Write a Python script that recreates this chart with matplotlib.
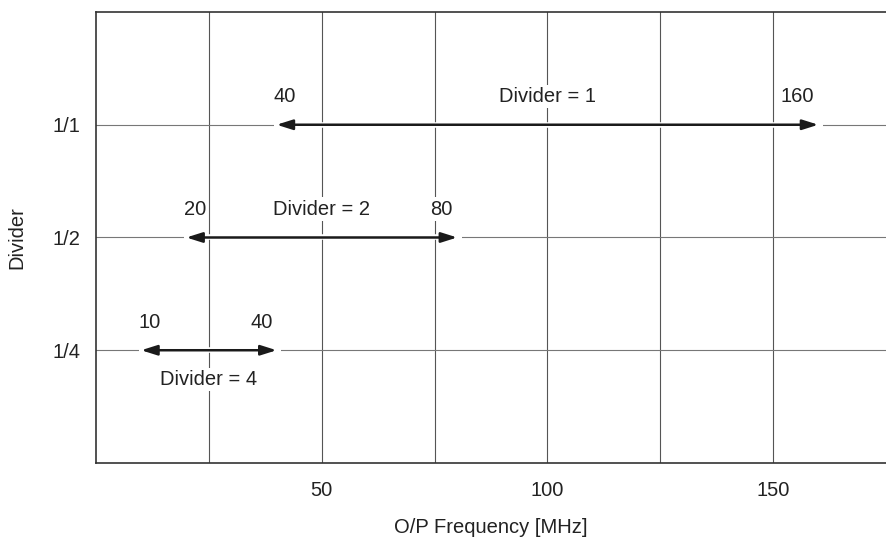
import numpy as np
import matplotlib
matplotlib.use("Agg")
import matplotlib.pyplot as plt

plt.rcParams['font.family'] = ['Liberation Sans', 'DejaVu Sans']

# divider settings and their output frequency range (MHz)
dividers = ['1/4', '1/2', '1/1']
div_names = ['Divider = 4', 'Divider = 2', 'Divider = 1']
f_min = [10, 20, 40]
f_max = [40, 80, 160]
x_ticks = [50, 100, 150]
x_grid = [25, 50, 75, 100, 125, 150]

FS = 14.5
TXT = '#222222'

fig = plt.figure(figsize=(8.86, 5.40), dpi=100)
ax = fig.add_axes([0.1084, 0.1426, 0.8916, 0.8352])

ypos = np.arange(1, len(dividers) + 1)
ax.set_xlim(0, 175)
ax.set_ylim(0, 4)

# grid
for gx in x_grid:
    ax.axvline(gx, color='#555555', lw=0.8, zorder=1)
for gy in ypos:
    ax.axhline(gy, color='#777777', lw=0.8, zorder=1)

box = dict(boxstyle='square,pad=0.12', fc='white', ec='none')
for i, y in enumerate(ypos):
    lo, hi = f_min[i], f_max[i]
    # small white gap in the grid line around arrow tips
    ax.plot([lo - 0.5, hi + 1.0], [y, y], color='white', lw=4, zorder=2,
            solid_capstyle='butt')
    ax.annotate('', xy=(hi, y), xytext=(lo, y),
                arrowprops=dict(arrowstyle='<|-|>,head_length=0.95,head_width=0.3',
                                color='#1a1a1a', lw=1.8, shrinkA=0, shrinkB=0),
                zorder=3)
    ax.annotate(str(lo), xy=(lo, y + 0.25), xytext=(-2, 0), textcoords='offset points',
                ha='left', va='center', fontsize=FS, color=TXT, bbox=box, zorder=4)
    ax.annotate(str(hi), xy=(hi, y + 0.25), xytext=(-3, 0), textcoords='offset points',
                ha='right', va='center', fontsize=FS, color=TXT, bbox=box, zorder=4)
    dy = -0.26 if i == 0 else 0.25
    ax.text((lo + hi) / 2, y + dy, div_names[i], ha='center', va='center',
            fontsize=FS, color=TXT, bbox=box, zorder=4)

ax.set_xticks(x_ticks)
ax.set_yticks(ypos)
ax.set_yticklabels(dividers)
ax.tick_params(length=0, labelsize=FS, labelcolor=TXT)
ax.tick_params(axis='x', pad=13)
ax.tick_params(axis='y', pad=11.5)

ax.spines['right'].set_visible(False)
for s in ['left', 'bottom', 'top']:
    ax.spines[s].set_color('#333333')
    ax.spines[s].set_linewidth(1.2)

ax.set_xlabel('O/P Frequency [MHz]', fontsize=FS, color=TXT, va='center')
ax.xaxis.set_label_coords(0.5, -0.144)
ax.set_ylabel('Divider', fontsize=FS, color=TXT, va='center')
ax.yaxis.set_label_coords(-0.1, 0.5)

fig.savefig('out.png', dpi=100)
